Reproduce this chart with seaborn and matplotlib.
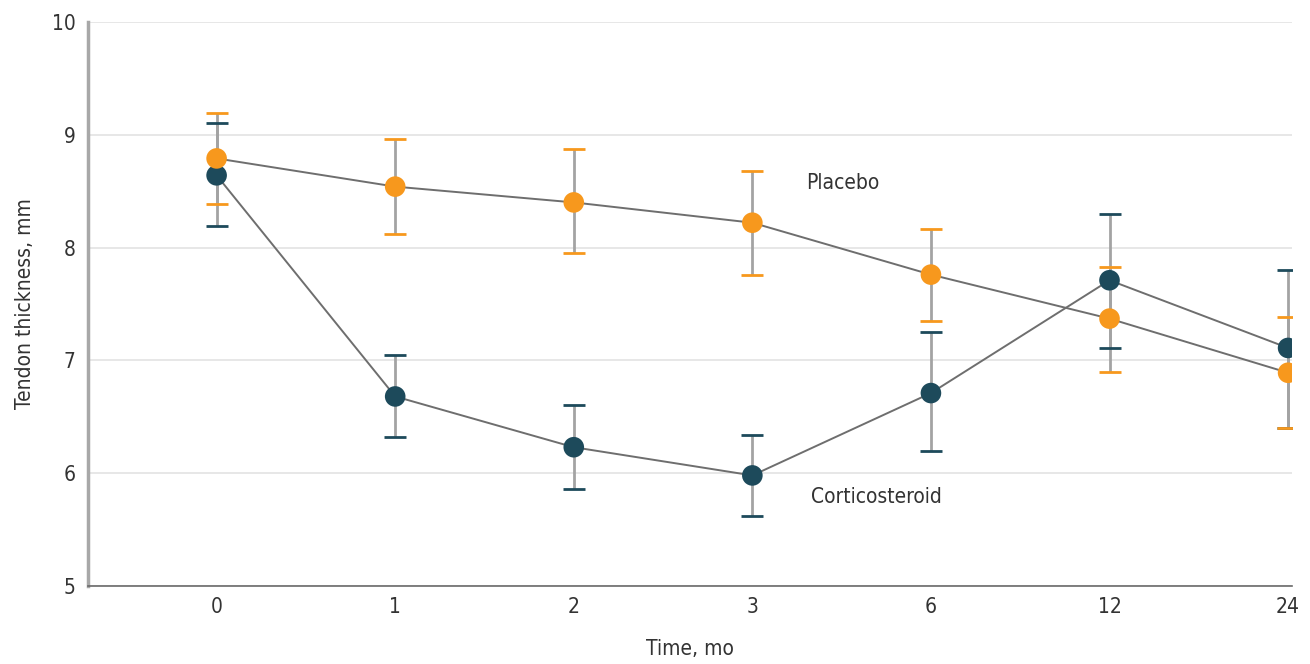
import pandas as pd
import matplotlib.pyplot as plt
import seaborn as sns

# Time points (categorical, equally spaced on the axis)
time_labels = ['0', '1', '2', '3', '6', '12', '24']

placebo_mean = [8.79, 8.54, 8.40, 8.22, 7.76, 7.37, 6.89]
placebo_lo = [8.39, 8.12, 7.95, 7.76, 7.35, 6.90, 6.40]
placebo_hi = [9.19, 8.96, 8.87, 8.68, 8.16, 7.83, 7.38]

cortico_mean = [8.64, 6.68, 6.23, 5.98, 6.71, 7.71, 7.11]
cortico_lo = [8.19, 6.32, 5.86, 5.62, 6.20, 7.11, 6.40]
cortico_hi = [9.10, 7.05, 6.60, 6.34, 7.25, 8.30, 7.80]

ORANGE = '#F7981D'
TEAL = '#1D4A5B'
STEM = '#A3A3A3'
LINE = '#6E6E6E'


def build_frame() -> pd.DataFrame:
    """
    Monta o DataFrame longo com as duas series.
    """
    pos = list(range(len(time_labels)))
    df_p = pd.DataFrame({'pos': pos, 'mean': placebo_mean, 'lo': placebo_lo,
                         'hi': placebo_hi, 'group': 'Placebo'})
    df_c = pd.DataFrame({'pos': pos, 'mean': cortico_mean, 'lo': cortico_lo,
                         'hi': cortico_hi, 'group': 'Corticosteroid'})
    return pd.concat([df_c, df_p], ignore_index=True)


df = build_frame()

sns.set_style('white')
plt.rcParams['font.family'] = ['DejaVu Sans']
plt.rcParams['font.stretch'] = 'condensed'
plt.rcParams['font.size'] = 15

fig = plt.figure(figsize=(13.1, 6.64), dpi=100)
ax = fig.add_axes([0.0672, 0.1175, 0.9188, 0.8495])

palette = {'Corticosteroid': TEAL, 'Placebo': ORANGE}

# error bars: gray stems, colored caps
for grp in ['Corticosteroid', 'Placebo']:
    d = df[df['group'] == grp]
    _, caps, _ = ax.errorbar(d['pos'], d['mean'],
                             yerr=[d['mean'] - d['lo'], d['hi'] - d['mean']],
                             fmt='none', ecolor=STEM, elinewidth=2,
                             capsize=8, capthick=2, zorder=2)
    for c in caps:
        c.set_color(palette[grp])
        c.set_markeredgecolor(palette[grp])
        c.set_zorder(3)

# connecting lines
sns.lineplot(data=df, x='pos', y='mean', units='group', estimator=None,
             color=LINE, linewidth=1.4, ax=ax, zorder=4, legend=False)

# markers
sns.scatterplot(data=df, x='pos', y='mean', hue='group', palette=palette,
                s=220, edgecolor='none', ax=ax, zorder=5, legend=False)

ax.set_xlim(-0.72, 6.02)
ax.set_ylim(5, 10)
ax.set_xticks(range(len(time_labels)))
ax.set_xticklabels(time_labels)
ax.set_yticks([5, 6, 7, 8, 9, 10])

ax.grid(axis='y', color='#E3E3E3', linewidth=1.2)
ax.set_axisbelow(True)

for s in ['top', 'right']:
    ax.spines[s].set_visible(False)
ax.spines['left'].set_color('#A8A8A8')
ax.spines['left'].set_linewidth(2.5)
ax.spines['bottom'].set_color('#6A6A6A')
ax.spines['bottom'].set_linewidth(1.2)

ax.tick_params(axis='both', length=5, width=1, color='#999999',
               labelcolor='#333333', labelsize=15, pad=4)
ax.tick_params(axis='x', direction='inout', length=8)

ax.set_xlabel('Time, mo', fontsize=15, color='#333333', labelpad=16)
ax.set_ylabel('Tendon thickness, mm', fontsize=15, color='#333333', labelpad=12)

ax.text(3.30, 8.57, 'Placebo', fontsize=15, color='#333333', va='center')
ax.text(3.33, 5.79, 'Corticosteroid', fontsize=15, color='#333333', va='center')

fig.savefig('out.png', dpi=100, facecolor='white')
